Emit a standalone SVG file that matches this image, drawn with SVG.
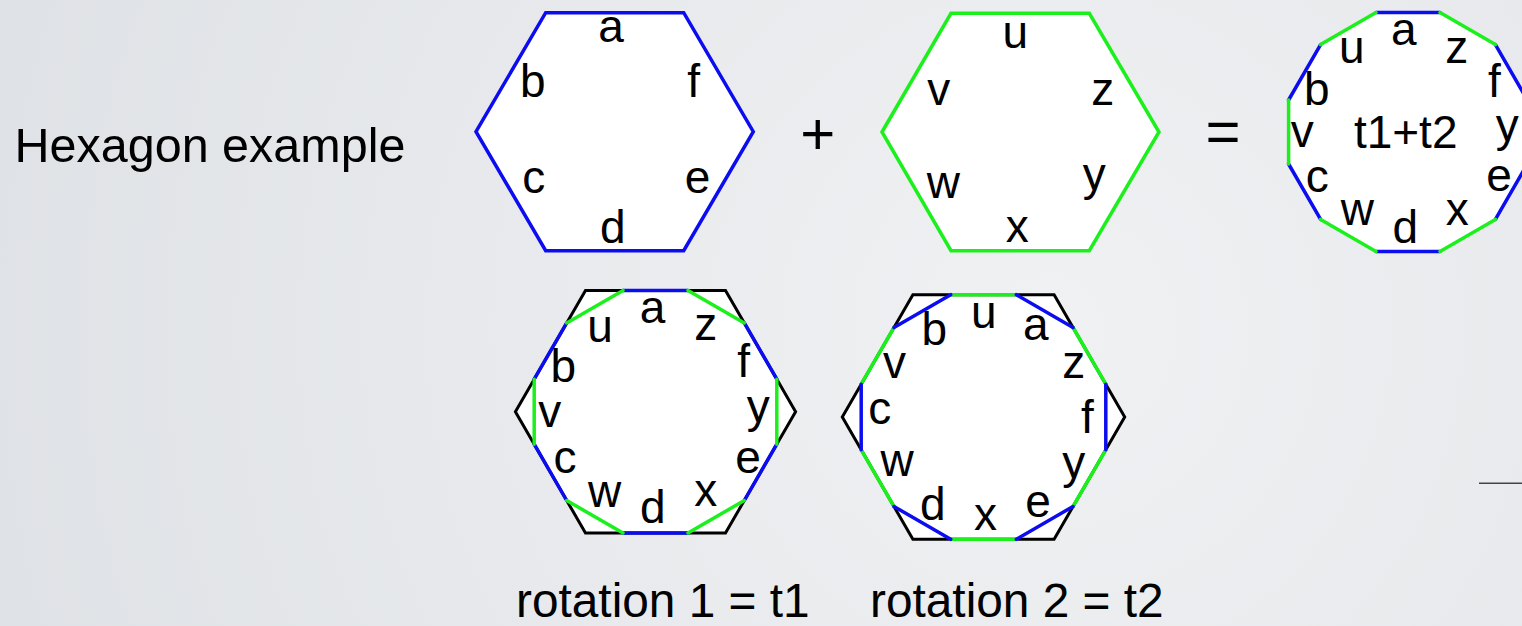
<svg xmlns="http://www.w3.org/2000/svg" width="1522" height="626" viewBox="0 0 1522 626">
  <defs>
    <radialGradient id="bg" cx="1050" cy="330" r="1150" gradientUnits="userSpaceOnUse">
      <stop offset="0" stop-color="#f0f1f3"/>
      <stop offset="1" stop-color="#dee1e5"/>
    </radialGradient>
  </defs>
  <style>
    text { font-family: "Liberation Sans", Arial, Helvetica, sans-serif; fill: #000; }
    .lbl { font-size: 46px; text-anchor: middle; }
    .title { font-size: 48.5px; }
    .cap { font-size: 47.8px; }
    .op { font-size: 60px; text-anchor: middle; }
    .blue { fill: none; stroke: #0c0cf0; stroke-width: 3.5; stroke-linecap: round; }
    .green { fill: none; stroke: #1cf01c; stroke-width: 3.5; stroke-linecap: round; }
    .blk { fill: #fff; stroke: #000; stroke-width: 3; stroke-linejoin: miter; }
    .wfill { fill: #fff; stroke: none; }
  </style>
  <rect x="0" y="0" width="1522" height="626" fill="url(#bg)"/>

  <g id="title">
    <text class="title" x="14.5" y="162.3">Hexagon example</text>
  </g>

  <g id="hexagon-t1">
    <polygon points="476,131.7 545.7,12.7 683.7,12.7 753.3,131.7 683.7,250.7 545.7,250.7" fill="#fff" stroke="#0c0cf0" stroke-width="3.5" stroke-linejoin="miter"/>
    <text class="lbl" x="611" y="41.7">a</text>
    <text class="lbl" x="532.7" y="97.3">b</text>
    <text class="lbl" x="693.7" y="97.3">f</text>
    <text class="lbl" x="533.7" y="192.7">c</text>
    <text class="lbl" x="697.5" y="192.7">e</text>
    <text class="lbl" x="612.7" y="242.7">d</text>
  </g>

  <g id="plus">
    <text class="op" x="817.7" y="153.5">+</text>
  </g>

  <g id="hexagon-t2">
    <polygon points="882,132 951,13.3 1089.3,13.3 1159,132 1089.3,250.7 951,250.7" fill="#fff" stroke="#1cf01c" stroke-width="3.5" stroke-linejoin="miter"/>
    <text class="lbl" x="1015.3" y="48.3">u</text>
    <text class="lbl" x="938.8" y="105">v</text>
    <text class="lbl" x="1102.8" y="105">z</text>
    <text class="lbl" x="943.3" y="198.3">w</text>
    <text class="lbl" x="1094.3" y="190">y</text>
    <text class="lbl" x="1017.2" y="241.7">x</text>
  </g>

  <g id="equals">
    <text class="op" x="1223" y="151.6">=</text>
  </g>

  <g id="sum-dodecagon">
    <polygon class="wfill" points="1527.4,100 1495.4,44.6 1440,12.6 1376,12.6 1320.6,44.6 1288.6,100 1288.6,164 1320.6,219.4 1376,251.4 1440,251.4 1495.4,219.4 1527.4,164"/>
    <path class="blue" d="M1440,12.6 L1376,12.6 M1320.6,44.6 L1288.6,100 M1288.6,164 L1320.6,219.4 M1376,251.4 L1440,251.4 M1495.4,219.4 L1527.4,164 M1527.4,100 L1495.4,44.6"/>
    <path class="green" d="M1376,12.6 L1320.6,44.6 M1288.6,100 L1288.6,164 M1320.6,219.4 L1376,251.4 M1440,251.4 L1495.4,219.4 M1527.4,164 L1527.4,100 M1495.4,44.6 L1440,12.6"/>
    <text class="lbl" x="1403.7" y="45">a</text>
    <text class="lbl" x="1351.7" y="63.3">u</text>
    <text class="lbl" x="1456.7" y="63.3">z</text>
    <text class="lbl" x="1316.7" y="105">b</text>
    <text class="lbl" x="1494.3" y="96.7">f</text>
    <text class="lbl" x="1302.3" y="146.7">v</text>
    <text class="lbl" x="1405.7" y="148.3">t1+t2</text>
    <text class="lbl" x="1507.3" y="141">y</text>
    <text class="lbl" x="1317.3" y="191.7">c</text>
    <text class="lbl" x="1499" y="190.7">e</text>
    <text class="lbl" x="1357.3" y="225">w</text>
    <text class="lbl" x="1405.3" y="242.7">d</text>
    <text class="lbl" x="1457.3" y="225">x</text>
  </g>

  <g id="rotation-1">
    <polygon class="blk" points="795.6,411.7 725.5,290.4 585.5,290.4 515.4,411.7 585.5,533 725.5,533"/>
    <path class="blue" d="M688,290.4 L623,290.4 M566.7,322.9 L534.2,379.2 M534.2,444.2 L566.7,500.5 M623,533 L688,533 M744.3,500.5 L776.8,444.2 M776.8,379.2 L744.3,322.9"/>
    <path class="green" d="M623,290.4 L566.7,322.9 M534.2,379.2 L534.2,444.2 M566.7,500.5 L623,533 M688,533 L744.3,500.5 M776.8,444.2 L776.8,379.2 M744.3,322.9 L688,290.4"/>
    <text class="lbl" x="652.5" y="323.3">a</text>
    <text class="lbl" x="600" y="341.7">u</text>
    <text class="lbl" x="705.8" y="340">z</text>
    <text class="lbl" x="563.3" y="381.7">b</text>
    <text class="lbl" x="743.7" y="376.7">f</text>
    <text class="lbl" x="549.7" y="426.7">v</text>
    <text class="lbl" x="758.3" y="421.7">y</text>
    <text class="lbl" x="565" y="472.7">c</text>
    <text class="lbl" x="748" y="473.3">e</text>
    <text class="lbl" x="604.7" y="506.7">w</text>
    <text class="lbl" x="705.8" y="506">x</text>
    <text class="lbl" x="652.8" y="523.3">d</text>
  </g>

  <g id="rotation-2">
    <polygon class="blk" points="1124.7,417 1054.1,294.7 912.9,294.7 842.3,417 912.9,539.3 1054.1,539.3"/>
    <path class="green" d="M1016.3,294.7 L950.7,294.7 M894,327.5 L861.2,384.2 M861.2,449.8 L894,506.5 M950.7,539.3 L1016.3,539.3 M1073,506.5 L1105.8,449.8 M1105.8,384.2 L1073,327.5"/>
    <path class="blue" d="M950.7,294.7 L894,327.5 M861.2,384.2 L861.2,449.8 M894,506.5 L950.7,539.3 M1016.3,539.3 L1073,506.5 M1105.8,449.8 L1105.8,384.2 M1073,327.5 L1016.3,294.7"/>
    <text class="lbl" x="983.7" y="328.3">u</text>
    <text class="lbl" x="934.2" y="345">b</text>
    <text class="lbl" x="1035.8" y="340">a</text>
    <text class="lbl" x="894.5" y="377.7">v</text>
    <text class="lbl" x="1073.7" y="377.7">z</text>
    <text class="lbl" x="879.7" y="424.3">c</text>
    <text class="lbl" x="1087.3" y="433.3">f</text>
    <text class="lbl" x="897.2" y="475.7">w</text>
    <text class="lbl" x="1073.7" y="478.3">y</text>
    <text class="lbl" x="932.8" y="520">d</text>
    <text class="lbl" x="1038" y="516.7">e</text>
    <text class="lbl" x="985.5" y="530">x</text>
  </g>

  <g id="captions">
    <text class="cap" x="516" y="617">rotation 1 = t1</text>
    <text class="cap" x="870" y="617">rotation 2 = t2</text>
  </g>

  <g id="connectors">
    <line x1="1479" y1="483.3" x2="1522" y2="483.3" stroke="#444" stroke-width="1.5"/>
  </g>
</svg>
